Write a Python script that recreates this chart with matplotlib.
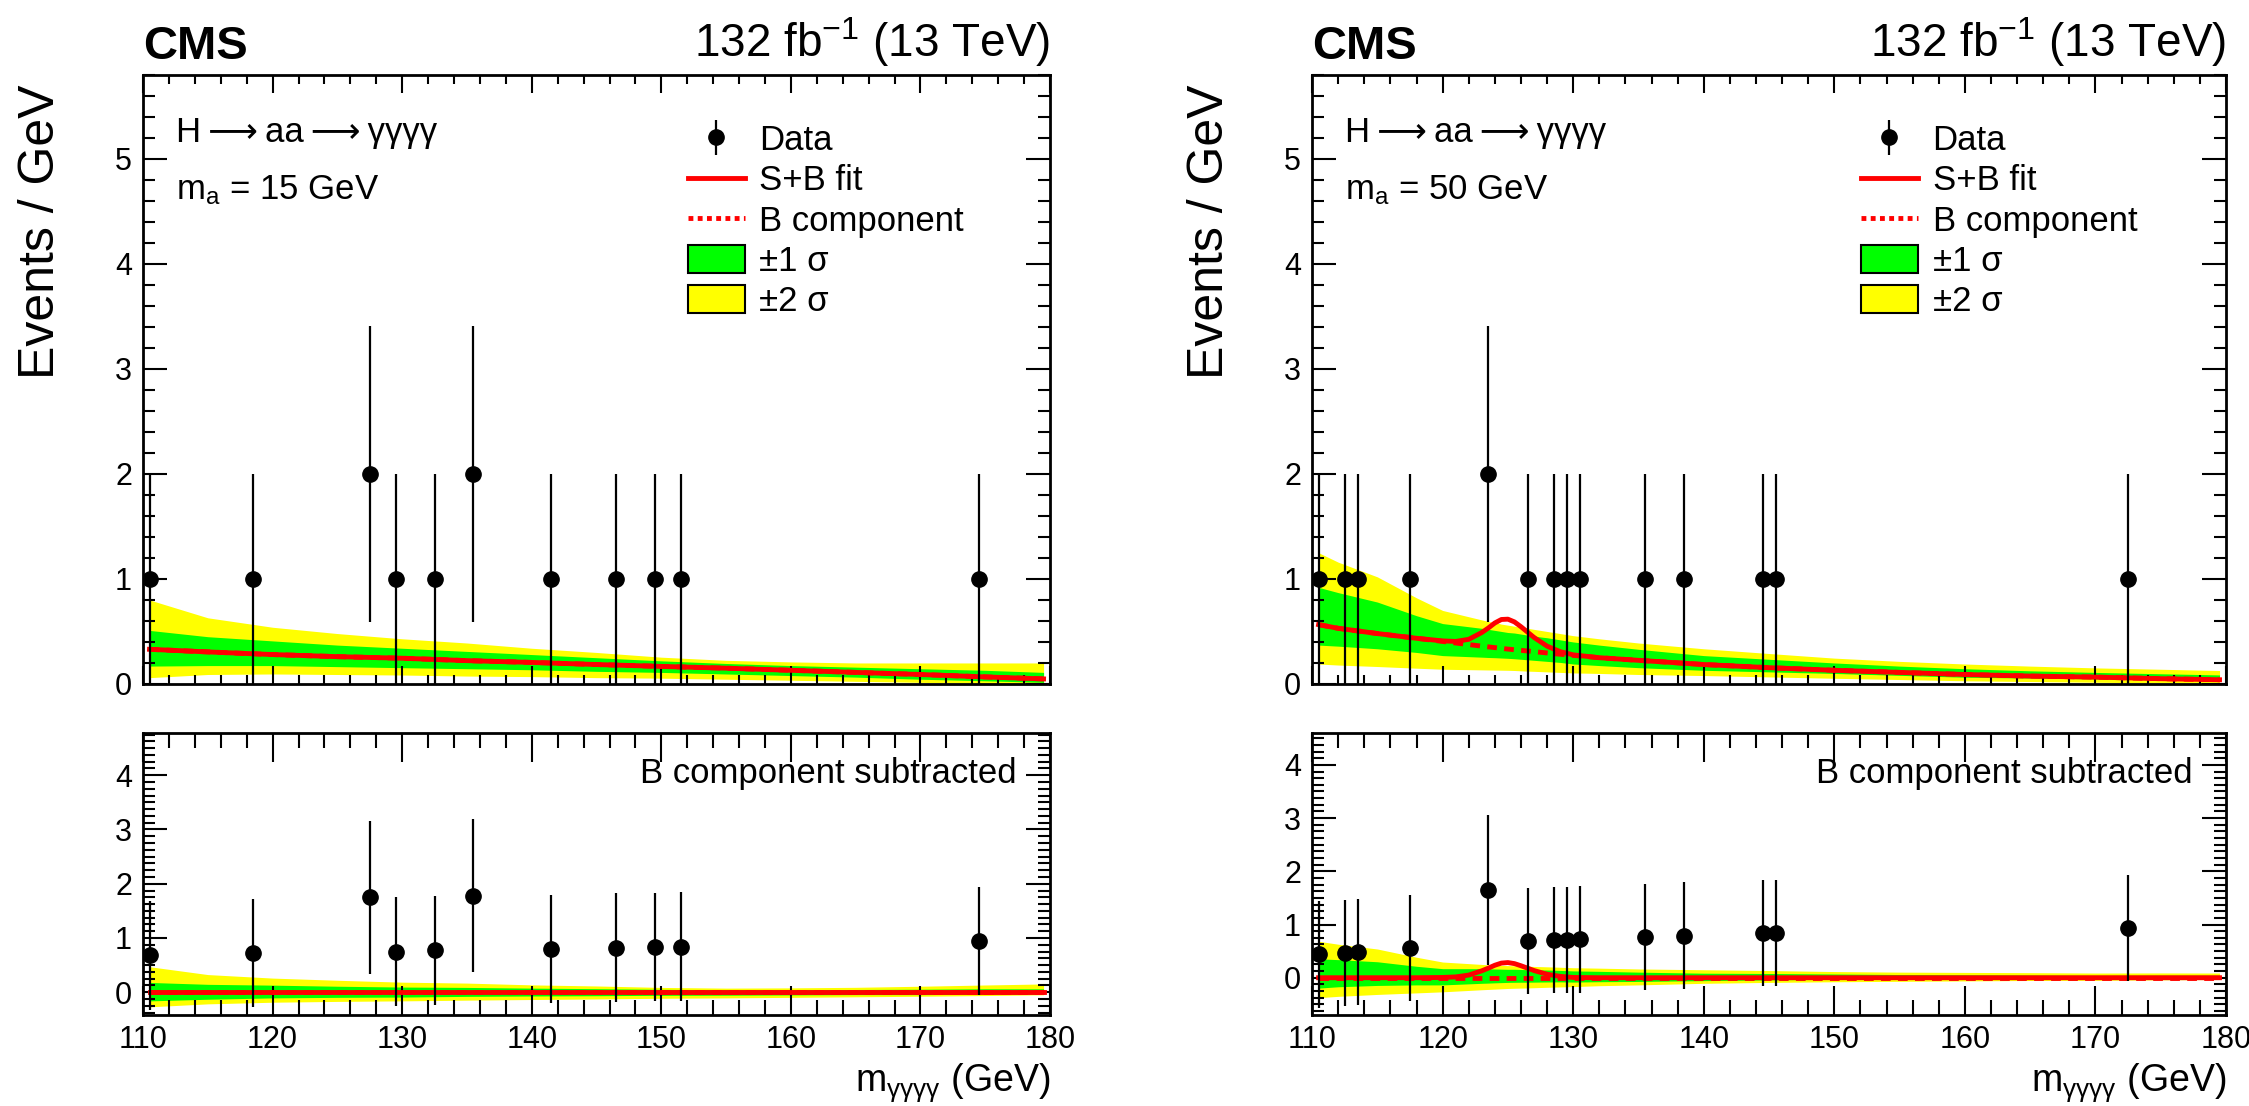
import matplotlib
matplotlib.use("Agg")
import matplotlib.pyplot as plt
from matplotlib.patches import Patch
from matplotlib.lines import Line2D
from matplotlib.ticker import MultipleLocator

plt.rcParams['font.family'] = ['Liberation Sans', 'DejaVu Sans']
plt.rcParams['mathtext.fontset'] = 'custom'
plt.rcParams['mathtext.rm'] = 'Liberation Sans'
plt.rcParams['mathtext.it'] = 'Liberation Sans:italic'
plt.rcParams['mathtext.bf'] = 'Liberation Sans:bold'

# ---- m_a = 15 GeV (pannello sinistro) ----
data_x_15 = [110.5, 118.5, 127.5, 129.5, 132.5, 135.5, 141.5, 146.5, 149.5, 151.5, 174.5]
data_n_15 = [1, 1, 2, 1, 1, 2, 1, 1, 1, 1, 1]
data_err_15 = [1.0, 1.0, 1.41, 1.0, 1.0, 1.41, 1.0, 1.0, 1.0, 1.0, 1.0]
resid_15 = [0.68, 0.72, 1.75, 0.75, 0.77, 1.78, 0.80, 0.82, 0.83, 0.84, 0.94]

fit_x_15 = [110.5, 115, 120, 125, 130, 135, 140, 145, 150, 155, 160, 165, 170, 175, 179.5]
bkg_15 = [0.33, 0.305, 0.28, 0.26, 0.245, 0.222, 0.205, 0.185, 0.167, 0.15, 0.13, 0.11, 0.09, 0.067, 0.048]
sig_15 = [0.0, 0.0, 0.0, 0.0, 0.0, 0.0, 0.0, 0.0, 0.0, 0.0, 0.0, 0.0, 0.0, 0.0, 0.0]
up2_15 = [0.80, 0.63, 0.54, 0.48, 0.43, 0.39, 0.34, 0.30, 0.255, 0.225, 0.21, 0.20, 0.20, 0.20, 0.20]
up1_15 = [0.51, 0.45, 0.41, 0.37, 0.34, 0.31, 0.28, 0.25, 0.22, 0.195, 0.175, 0.16, 0.145, 0.13, 0.11]
dn1_15 = [0.17, 0.175, 0.175, 0.165, 0.155, 0.145, 0.135, 0.12, 0.11, 0.095, 0.08, 0.065, 0.045, 0.03, 0.015]
dn2_15 = [0.06, 0.09, 0.095, 0.09, 0.085, 0.075, 0.07, 0.06, 0.055, 0.045, 0.035, 0.025, 0.015, 0.005, 0.0]

# ---- m_a = 50 GeV (pannello destro) ----
data_x_50 = [110.5, 112.5, 113.5, 117.5, 123.5, 126.5, 128.5, 129.5, 130.5, 135.5, 138.5, 144.5, 145.5, 172.5]
data_n_50 = [1, 1, 1, 1, 2, 1, 1, 1, 1, 1, 1, 1, 1, 1]
data_err_50 = [1.0, 1.0, 1.0, 1.0, 1.41, 1.0, 1.0, 1.0, 1.0, 1.0, 1.0, 1.0, 1.0, 1.0]
resid_50 = [0.44, 0.47, 0.48, 0.56, 1.64, 0.69, 0.71, 0.71, 0.72, 0.77, 0.79, 0.84, 0.84, 0.93]

fit_x_50 = [110.5, 112, 115, 118, 120, 121, 122, 123, 123.5, 124, 124.5, 125, 125.5, 126, 126.5,
            127, 128, 129, 130, 132, 135, 140, 145, 150, 155, 160, 165, 170, 175, 179.5]
bkg_50 = [0.565, 0.53, 0.48, 0.435, 0.405, 0.39, 0.375, 0.36, 0.353, 0.346, 0.339, 0.332, 0.326, 0.32, 0.314,
          0.308, 0.295, 0.283, 0.272, 0.25, 0.225, 0.185, 0.155, 0.13, 0.11, 0.09, 0.075, 0.065, 0.05, 0.04]
sig_50 = [0.0, 0.0, 0.0, 0.0, 0.005, 0.015, 0.05, 0.13, 0.18, 0.235, 0.275, 0.285, 0.265, 0.225, 0.18,
          0.135, 0.065, 0.025, 0.005, 0.0, 0.0, 0.0, 0.0, 0.0, 0.0, 0.0, 0.0, 0.0, 0.0, 0.0]
up2_50 = [1.25, 1.16, 1.02, 0.82, 0.70, 0.67, 0.64, 0.61, 0.595, 0.585, 0.57, 0.56, 0.55, 0.54, 0.53,
          0.52, 0.50, 0.48, 0.46, 0.43, 0.39, 0.335, 0.29, 0.246, 0.215, 0.19, 0.17, 0.153, 0.14, 0.128]
up1_50 = [0.92, 0.87, 0.78, 0.65, 0.575, 0.56, 0.545, 0.53, 0.52, 0.51, 0.50, 0.49, 0.485, 0.475, 0.465,
          0.455, 0.44, 0.42, 0.40, 0.37, 0.33, 0.27, 0.235, 0.2, 0.17, 0.145, 0.125, 0.11, 0.097, 0.086]
dn1_50 = [0.37, 0.36, 0.335, 0.30, 0.27, 0.265, 0.26, 0.255, 0.252, 0.25, 0.247, 0.244, 0.24, 0.235, 0.23,
          0.225, 0.215, 0.205, 0.19, 0.175, 0.155, 0.13, 0.115, 0.1, 0.082, 0.064, 0.056, 0.048, 0.04, 0.03]
dn2_50 = [0.19, 0.18, 0.166, 0.15, 0.14, 0.138, 0.136, 0.134, 0.133, 0.132, 0.131, 0.13, 0.128, 0.125, 0.122,
          0.12, 0.115, 0.11, 0.105, 0.1, 0.09, 0.08, 0.067, 0.054, 0.042, 0.03, 0.023, 0.016, 0.01, 0.006]

YELLOW = '#ffff00'
GREEN = '#00ff00'
RED = '#ff0000'
TXT = 25


def style_axis(ax, xmaj, xmin, yminor):
    ax.set_xlim(110, 180)
    ax.xaxis.set_major_locator(MultipleLocator(10))
    ax.xaxis.set_minor_locator(MultipleLocator(2))
    ax.yaxis.set_major_locator(MultipleLocator(1))
    ax.yaxis.set_minor_locator(MultipleLocator(yminor))
    ax.tick_params(which='both', direction='in', top=True, right=True, width=1.5, labelsize=22)
    ax.tick_params(axis='x', which='major', length=xmaj, pad=7)
    ax.tick_params(axis='x', which='minor', length=xmin)
    ax.tick_params(axis='y', which='major', length=17, pad=8)
    ax.tick_params(axis='y', which='minor', length=8.5)
    for s in ax.spines.values():
        s.set_linewidth(2)


def draw_panel(ax, axb, ma, dx, dn, derr, res, fx, bkg, sig, u2, u1, d1, d2, ylo_b, yhi_b):
    # pannello superiore
    ax.fill_between(fx, d2, u2, color=YELLOW, lw=0)
    ax.fill_between(fx, d1, u1, color=GREEN, lw=0)
    sb = [b + s for b, s in zip(bkg, sig)]
    ax.plot(fx, bkg, color=RED, lw=3.5, ls=(0, (2, 1.5)))
    ax.plot(fx, sb, color=RED, lw=3.5)
    ax.errorbar(dx, dn, yerr=derr, fmt='o', color='black', ms=11, elinewidth=1.6, capsize=0)
    ax.set_ylim(0, 5.8)
    style_axis(ax, 13, 6.5, 0.2)
    ax.tick_params(axis='x', labelbottom=False)

    ax.text(0.0, 1.01, 'CMS', transform=ax.transAxes, fontsize=34, weight='bold', ha='left', va='bottom')
    ax.text(1.0, 1.01, '132 fb$^{-1}$ (13 TeV)', transform=ax.transAxes, fontsize=33, ha='right', va='bottom')
    ax.text(0.036, 0.905, 'H\u2009⟶\u2009aa\u2009⟶\u2009γγγγ', transform=ax.transAxes,
            fontsize=TXT, ha='left', va='center')
    ax.text(0.036, 0.811, 'm$_{\\mathregular{a}}$ = %d GeV' % ma, transform=ax.transAxes,
            fontsize=TXT, ha='left', va='center')
    ax.set_ylabel('Events / GeV', loc='top', fontsize=36)
    ax.yaxis.set_label_coords(-0.087, 0.985)

    handles = [
        ax.errorbar([], [], yerr=[], fmt='o', color='black', ms=11, elinewidth=1.6),
        Line2D([], [], color=RED, lw=3.5),
        Line2D([], [], color=RED, lw=3.5, ls=(0, (1.0, 0.9))),
        Patch(facecolor=GREEN, edgecolor='black', lw=1.5),
        Patch(facecolor=YELLOW, edgecolor='black', lw=1.5),
    ]
    labels = ['Data', 'S+B fit', 'B component', '±1 σ', '±2 σ']
    ax.legend(handles, labels, loc='upper left', bbox_to_anchor=(0.585, 0.942), frameon=False,
              fontsize=TXT, handlelength=1.65, handleheight=0.85, labelspacing=0.21, handletextpad=0.42,
              borderaxespad=0)

    # pannello inferiore: componente B sottratta
    bu2 = [u - b for u, b in zip(u2, bkg)]
    bu1 = [u - b for u, b in zip(u1, bkg)]
    bd1 = [d - b for d, b in zip(d1, bkg)]
    bd2 = [d - b for d, b in zip(d2, bkg)]
    zero = [0.0 for _ in fx]
    axb.fill_between(fx, bd2, bu2, color=YELLOW, lw=0)
    axb.fill_between(fx, bd1, bu1, color=GREEN, lw=0)
    axb.plot(fx, sig, color=RED, lw=3.5)
    axb.plot(fx, zero, color=RED, lw=3.5, ls=(0, (2, 1.5)))
    axb.errorbar(dx, res, yerr=derr, fmt='o', color='black', ms=11, elinewidth=1.6, capsize=0)
    axb.set_ylim(ylo_b, yhi_b)
    style_axis(axb, 21, 11, 0.125)
    axb.text(0.963, 0.855, 'B component subtracted', transform=axb.transAxes, fontsize=TXT,
             ha='right', va='center')
    axb.set_xlabel('m$_{\\mathregular{γγγγ}}$ (GeV)', loc='right', fontsize=27)
    axb.xaxis.set_label_coords(1.0, -0.165)
    axb.xaxis.label.set_va('top')


fig = plt.figure(figsize=(22.49, 11.06), dpi=100)
ax1 = fig.add_axes([0.0636, 0.3816, 0.4033, 0.5506])
ax1b = fig.add_axes([0.0636, 0.0823, 0.4033, 0.2550])
ax2 = fig.add_axes([0.5834, 0.3816, 0.4064, 0.5506])
ax2b = fig.add_axes([0.5834, 0.0823, 0.4064, 0.2550])

draw_panel(ax1, ax1b, 15, data_x_15, data_n_15, data_err_15, resid_15, fit_x_15, bkg_15, sig_15,
           up2_15, up1_15, dn1_15, dn2_15, -0.42, 4.78)
draw_panel(ax2, ax2b, 50, data_x_50, data_n_50, data_err_50, resid_50, fit_x_50, bkg_50, sig_50,
           up2_50, up1_50, dn1_50, dn2_50, -0.7, 4.6)

fig.savefig('out.png', dpi=100)
